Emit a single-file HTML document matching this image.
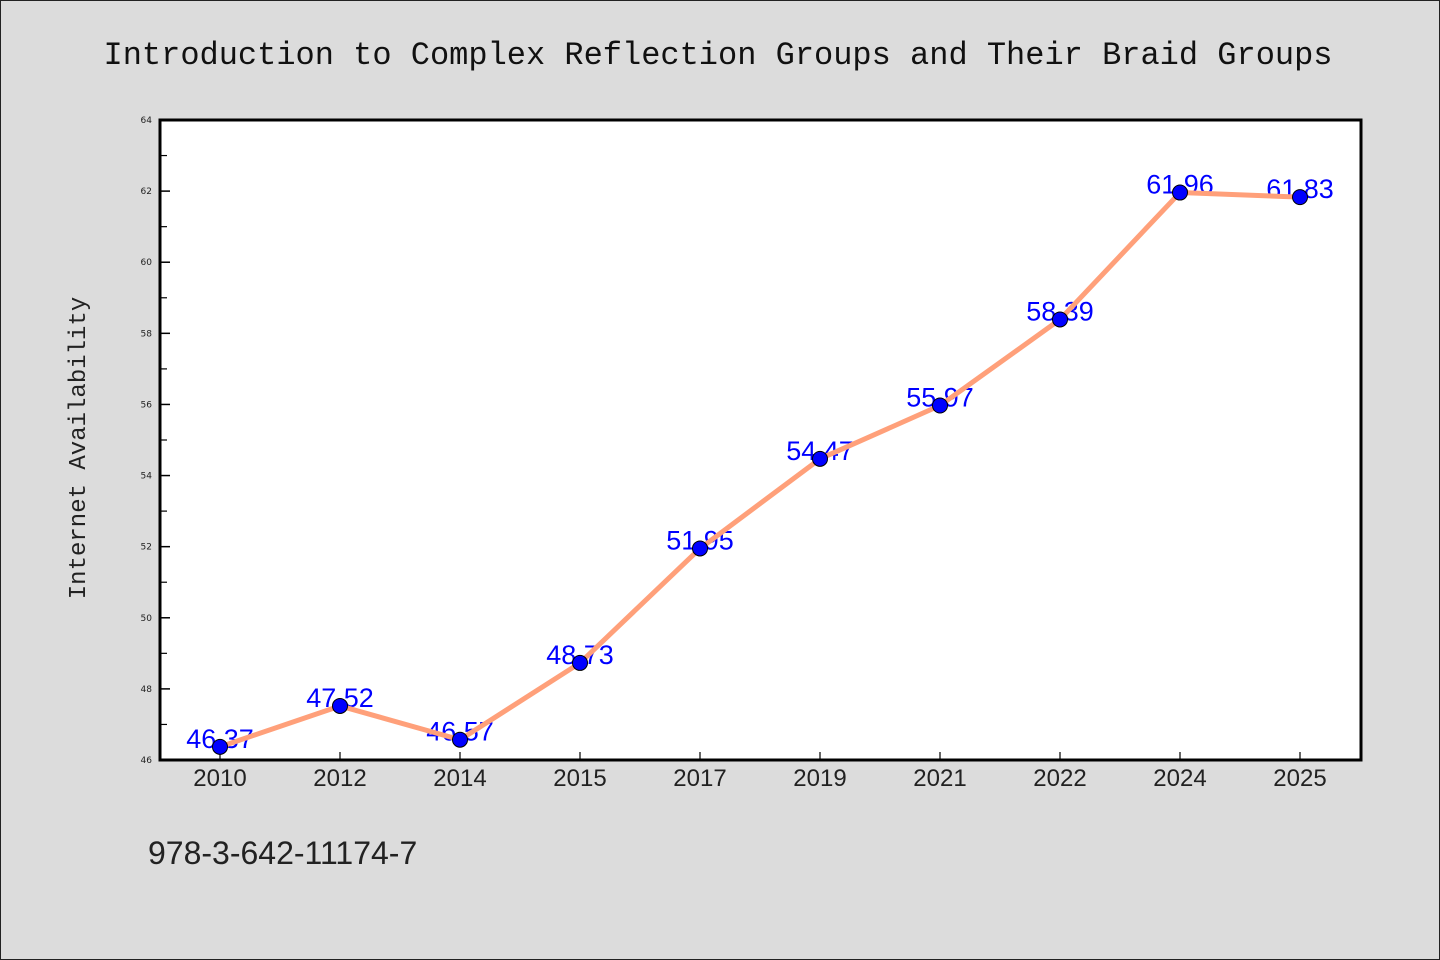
<!DOCTYPE html>
<html><head><meta charset="utf-8"><style>
html,body{margin:0;padding:0;background:#dcdcdc;}
svg{display:block;}
</style></head><body>
<svg id="chart" width="1440" height="960" xmlns="http://www.w3.org/2000/svg">
<rect x="0.5" y="0.5" width="1439" height="959" fill="#dcdcdc" stroke="#222" stroke-width="1"/>
<text x="718" y="64" text-anchor="middle" font-family="'Liberation Mono', monospace" font-size="32" fill="#111">Introduction to Complex Reflection Groups and Their Braid Groups</text>
<rect x="160" y="120" width="1201" height="640" fill="#fff"/>
<g id="axes"></g>
<g id="marks"></g>
<rect x="160" y="120" width="1201" height="640" fill="none" stroke="#000" stroke-width="3"/>
<text transform="translate(85,448) rotate(-90)" text-anchor="middle" font-family="'Liberation Mono', monospace" font-size="24" fill="#222">Internet Availability</text>
<text x="148" y="864" font-family="'WenQuanYi Zen Hei','Liberation Sans',sans-serif" font-size="32" fill="#222">978-3-642-11174-7</text>
</svg>
<script>
const categories = ["2010","2012","2014","2015","2017","2019","2021","2022","2024","2025"];
const values = [46.37,47.52,46.57,48.73,51.95,54.47,55.97,58.39,61.96,61.83];
const valueLabels = ["46.37","47.52","46.57","48.73","51.95","54.47","55.97","58.39","61.96","61.83"];
const yTicks = [46,48,50,52,54,56,58,60,62,64];
const yMinorTicks = [47,49,51,53,55,57,59,61,63];
const NS="http://www.w3.org/2000/svg";
const L=160,R=1361,T=120,B=760,yMin=46,yMax=64;
function x(i){return 220+i*(R-L-121)/(categories.length-1);}
function y(v){return B-(v-yMin)/(yMax-yMin)*(B-T);}
function mk(tag,attrs,parent){const e=document.createElementNS(NS,tag);for(const k in attrs)e.setAttribute(k,attrs[k]);parent.appendChild(e);return e;}
const ax=document.getElementById('axes'), mg=document.getElementById('marks');
yTicks.forEach(v=>{
  const t=mk('line',{x1:L,x2:L+10,y1:y(v),y2:y(v),stroke:'#000','stroke-width':1.5},ax);
  
  
  const lb=mk('text',{x:L-8,y:y(v)+3,'text-anchor':'end','font-family':"'DejaVu Sans',sans-serif",'font-size':9,fill:'#222'},ax);
  lb.textContent=v;
  
  
});
yMinorTicks.forEach(v=>{
  const t=mk('line',{x1:L,x2:L+7,y1:y(v),y2:y(v),stroke:'#000','stroke-width':1.2},ax);
  
  
});
categories.forEach((c,i)=>{
  const t=mk('line',{x1:x(i),x2:x(i),y1:B,y2:B-8,stroke:'#000','stroke-width':1.2},ax);
  
  
  const lb=mk('text',{x:x(i),y:B+26,'text-anchor':'middle','font-family':"'WenQuanYi Zen Hei','Liberation Sans',sans-serif",'font-size':24,fill:'#222'},ax);
  lb.textContent=c;
  
  
});
values.forEach((v,i)=>{
  const lb=mk('text',{x:x(i),y:y(v)+1,'text-anchor':'middle','font-family':"'WenQuanYi Zen Hei','Liberation Sans',sans-serif",'font-size':27,fill:'#0000ff'},mg);
  lb.textContent=valueLabels[i];
  
  
});
const pl=mk('polyline',{points:values.map((v,i)=>x(i)+','+y(v)).join(' '),fill:'none',stroke:'#ffa07a','stroke-width':5,'stroke-linejoin':'round'},mg);


values.forEach((v,i)=>{
  const c=mk('circle',{cx:x(i),cy:y(v),r:7.5,fill:'#0000ff',stroke:'#000','stroke-width':1},mg);
  
  
});
</script>
</body></html>
